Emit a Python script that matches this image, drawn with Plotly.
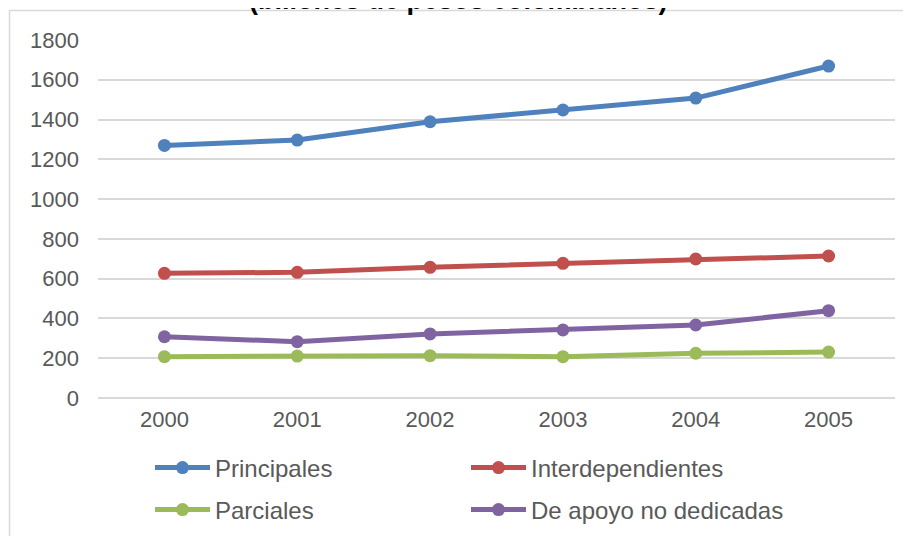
import plotly.graph_objects as go

years = ["2000", "2001", "2002", "2003", "2004", "2005"]
principales = [1270, 1297, 1389, 1448, 1508, 1669]
interdependientes = [627, 632, 657, 677, 699, 714]
parciales = [208, 211, 213, 208, 225, 231]
de_apoyo = [308, 283, 322, 342, 367, 439]

series = [
    ("Principales", principales, "#4f81bd", "legend"),
    ("Interdependientes", interdependientes, "#c0504d", "legend2"),
    ("Parciales", parciales, "#9bbb59", "legend3"),
    ("De apoyo no dedicadas", de_apoyo, "#8064a2", "legend4"),
]

W, H = 911, 536
OFF = 8  # page body margin offset
ML, MT = 98 - OFF, 40 - OFF
MR = W - (895 - OFF)
MB = H - (398 - OFF)
FONT = "Liberation Sans, Arial, sans-serif"
GREY = "#595959"

fig = go.Figure()
for name, vals, col, leg in series:
    fig.add_trace(go.Scatter(
        x=years, y=vals, name=name, mode="lines+markers",
        line=dict(color=col, width=5),
        marker=dict(color=col, size=13),
        legend=leg,
    ))

ph = H - MT - MB
pw = W - ML - MR
def py_paper(py):  # py given in window pixels
    return (H - MB - (py - OFF)) / ph
def px_paper(px):
    return ((px - OFF) - ML) / pw

def legend_cfg(px_left, py_center):
    return dict(
        orientation="h", xref="container", yref="container",
        x=(px_left - OFF - 7) / W, xanchor="left",
        y=1 - (py_center - OFF) / H, yanchor="middle",
        font=dict(size=24, color=GREY, family=FONT),
        itemwidth=55,
        bgcolor="rgba(0,0,0,0)",
    )

fig.update_layout(
    width=W, height=H,
    margin=dict(l=ML, r=MR, t=MT, b=MB, pad=0, autoexpand=False),
    paper_bgcolor="white", plot_bgcolor="white",
    font=dict(family=FONT, color=GREY, size=22),
    showlegend=True,
    legend=legend_cfg(157, 468),
    legend2=legend_cfg(473, 468),
    legend3=legend_cfg(157, 510),
    legend4=legend_cfg(473, 510),
    xaxis=dict(
        type="category", range=[-0.5, 5.5], showgrid=False,
        showline=False, ticks="", tickfont=dict(size=22, color=GREY),
        ticklabelstandoff=6, automargin=False,
    ),
    yaxis=dict(
        range=[0, 1800], dtick=200, showgrid=True, gridcolor="#d9d9d9",
        gridwidth=1.5, zeroline=True, zerolinecolor="#d9d9d9", zerolinewidth=1.5,
        showline=False, ticks="", tickfont=dict(size=22, color=GREY),
        ticklabelstandoff=18, automargin=False,
    ),
    shapes=[dict(
        type="rect", xref="paper", yref="paper",
        x0=px_paper(9.5), x1=px_paper(W + 30),
        y0=py_paper(H + 30), y1=py_paper(10.5),
        line=dict(color="#d9d9d9", width=1.5), fillcolor="rgba(0,0,0,0)",
        layer="below",
    )],
    annotations=[dict(
        text="(billones de pesos colombianos)", xref="paper", yref="paper",
        x=px_paper(458), y=py_paper(17), xanchor="center", yanchor="bottom",
        showarrow=False, font=dict(family=FONT, size=27, color="black", weight="bold"),
    )],
)

fig.write_html("out.html")
